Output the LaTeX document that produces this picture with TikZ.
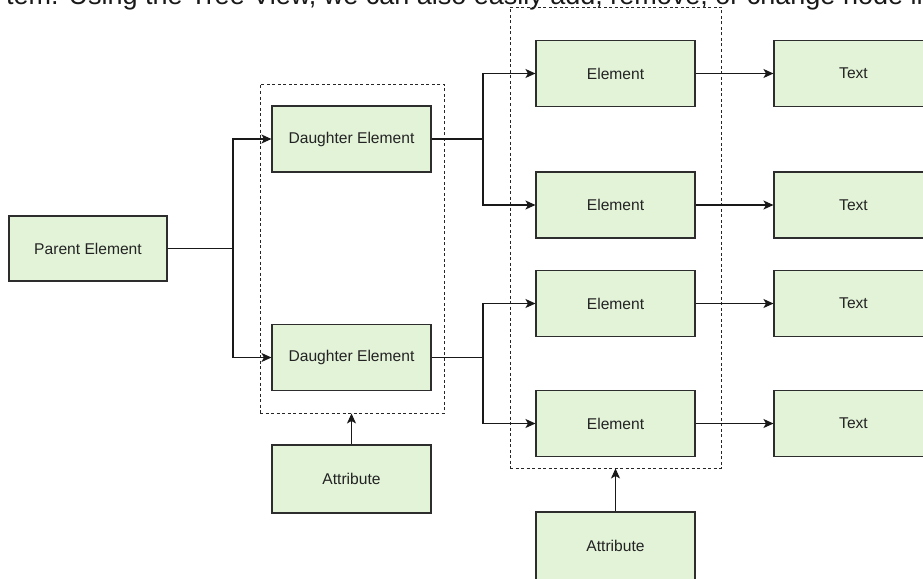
\documentclass[tikz,border=0pt]{standalone}
\usepackage{fontspec}
\setmainfont{Liberation Sans}
\usetikzlibrary{arrows.meta}
\definecolor{boxfill}{RGB}{226,243,216}
\definecolor{boxline}{RGB}{45,45,45}
\definecolor{txt}{RGB}{35,35,35}
\tikzset{
  box/.style={draw=boxline, line width=1.1pt, fill=boxfill, minimum width=159pt, minimum height=66pt, inner sep=0pt, font=\fontsize{15.6}{18}\selectfont, text=txt},
  grp/.style={draw=black!85, line width=0.9pt, dash pattern=on 3pt off 2.5pt, inner sep=0pt},
  conn/.style={draw=black!90, line width=1.1pt},
  arr/.style={conn, -{Stealth[length=10pt,width=9pt,inset=2.5pt]}}
}
\begin{document}
\begin{tikzpicture}[x=1pt,y=-1pt]
\useasboundingbox (0,0) rectangle (923,578);
\clip (0,0) rectangle (923,578);
% clipped running text at the top
\node[anchor=base west, inner sep=0pt, font=\fontsize{27}{30}\selectfont, text=black!90] (toptext) at (6,5) {tem. Using the Tree View, we can also easily add, remove, or change node in};
% groups
\node[grp, minimum width=184pt, minimum height=329pt] (grp1) at (352,248.5) {};
\node[grp, minimum width=211pt, minimum height=461pt] (grp2) at (615.5,237.5) {};
% boxes
\node[box, minimum width=158pt, minimum height=65pt] (parent) at (88,248.5) {Parent Element};
\node[box] (d1) at (351.5,139) {Daughter Element};
\node[box] (d2) at (351.5,357.5) {Daughter Element};
\node[box, minimum height=68pt] (a1) at (351.5,479) {Attribute};
\node[box] (e1) at (615.5,73.5) {Element};
\node[box] (e2) at (615.5,205) {Element};
\node[box] (e3) at (615.5,303.5) {Element};
\node[box] (e4) at (615.5,423.5) {Element};
\node[box] (t1) at (853.5,73.5) {Text};
\node[box] (t2) at (853.5,205) {Text};
\node[box] (t3) at (853.5,303.5) {Text};
\node[box] (t4) at (853.5,423.5) {Text};
\node[box, minimum height=68pt] (a2) at (615.5,546) {Attribute};
% buses
\coordinate (bus1) at (233,248.5);
\coordinate (bus2) at (483,139);
\coordinate (bus3) at (483,357.5);
\draw[conn] (parent.east) -- (bus1);
\draw[arr] (bus1) |- (d1.west);
\draw[arr] (bus1) |- (d2.west);
\draw[conn] (d1.east) -- (bus2);
\draw[arr] (bus2) |- (e1.west);
\draw[arr] (bus2) |- (e2.west);
\draw[conn] (d2.east) -- (bus3);
\draw[arr] (bus3) |- (e3.west);
\draw[arr] (bus3) |- (e4.west);
\draw[arr] (e1.east) -- (t1.west);
\draw[arr] (e2.east) -- (t2.west);
\draw[arr] (e3.east) -- (t3.west);
\draw[arr] (e4.east) -- (t4.west);
\draw[arr] (a1.north) -- (a1.north |- grp1.south);
\draw[arr] (a2.north) -- (a2.north |- grp2.south);
\end{tikzpicture}
\end{document}
